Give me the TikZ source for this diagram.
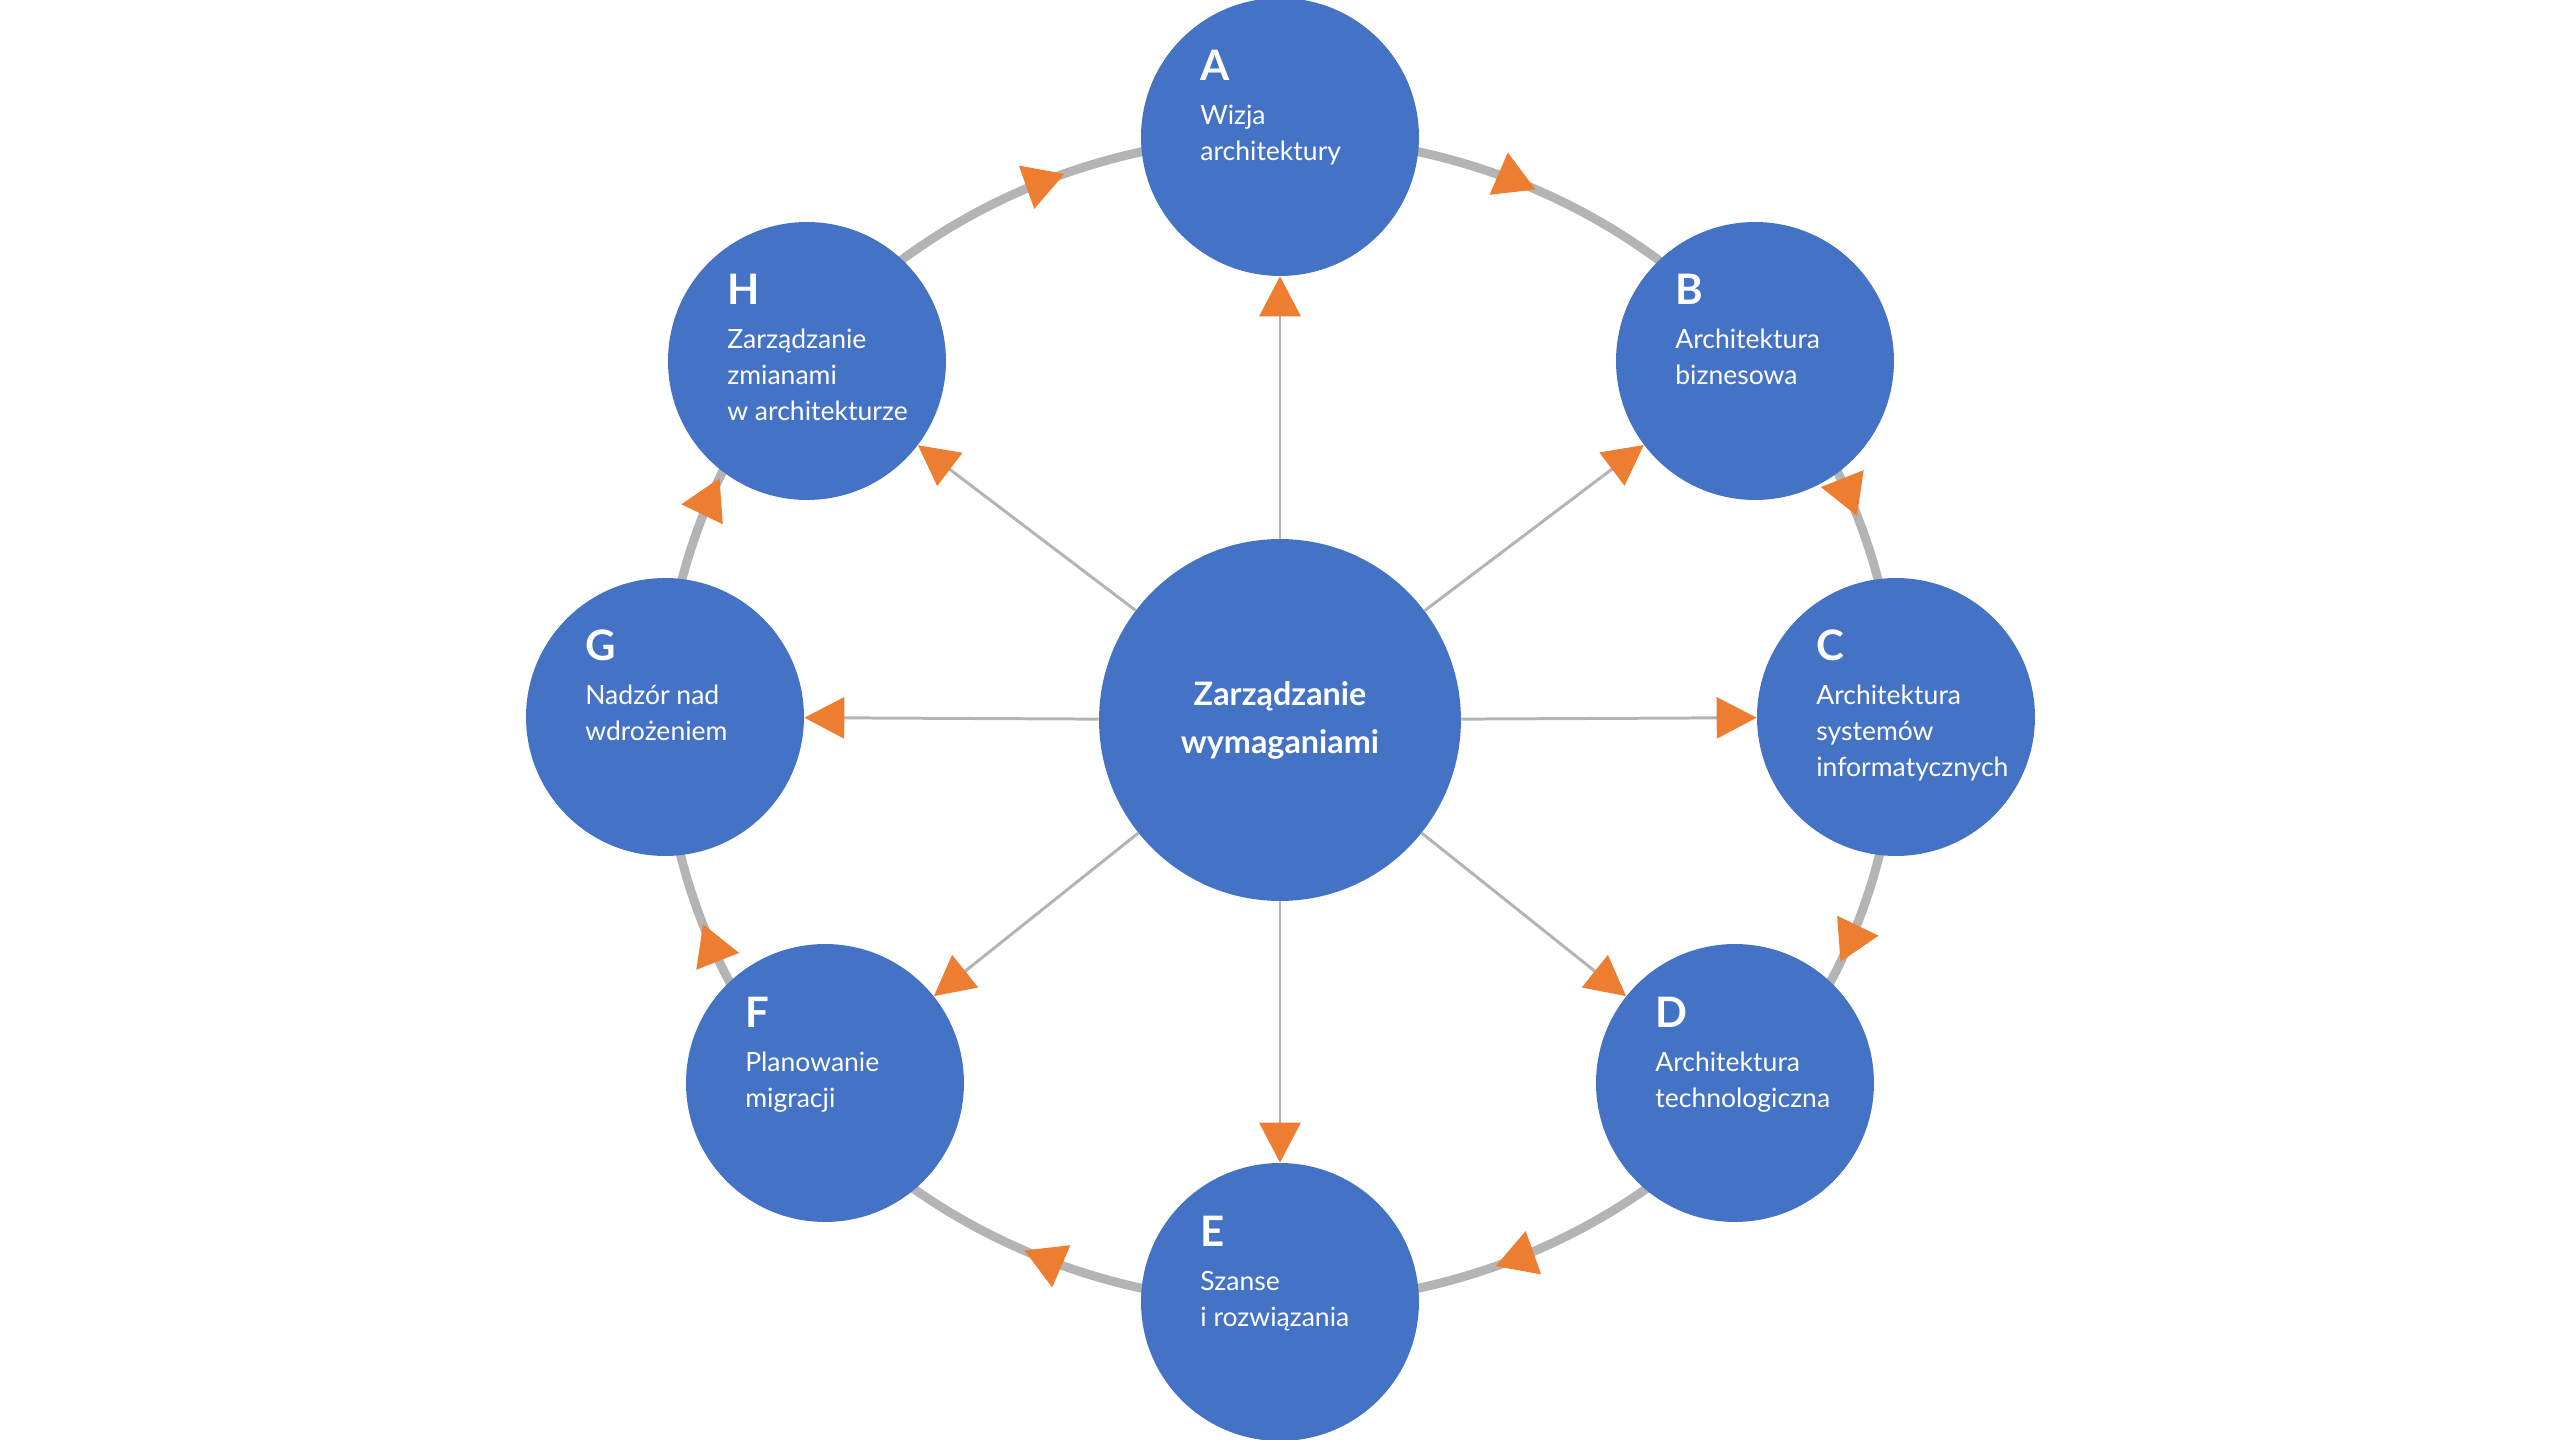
\documentclass[tikz,border=0pt]{standalone}
\usepackage{fontspec}
\setmainfont{Lato}
\usepackage{tikz}
\usetikzlibrary{arrows.meta}
\usetikzlibrary{calc}
\definecolor{phaseblue}{HTML}{4472C4}
\definecolor{tiporange}{HTML}{ED7D31}
\definecolor{ringgray}{HTML}{B4B4B4}

\begin{document}
\begin{tikzpicture}[x=0.02cm,y=0.02cm,
  phase/.style={circle,fill=phaseblue,minimum size=5.56cm,inner sep=0pt},
  hub/.style={circle,fill=phaseblue,minimum size=7.24cm,inner sep=0pt,text=white,align=center,font=\bfseries\fontsize{18.4}{27.3}\selectfont},
  head/.style={anchor=base west,inner sep=0pt,text=white,font=\bfseries\fontsize{23.9}{28}\selectfont},
  body/.style={anchor=base west,inner sep=0pt,text=white,font=\fontsize{15.1}{20.5}\selectfont},
  spoke/.style={draw=ringgray,line width=1.7pt,-{Triangle[length=0.8cm,width=0.82cm,color=tiporange]}},
  ring/.style={draw=ringgray,line width=5.1pt},
  cyclehead/.style={fill=tiporange}]
\useasboundingbox (-1280,-720) rectangle (1280,720);
\draw[ring] (0,0) ellipse (616 and 583);
\node[hub] (Z) at (0,0) {Zarządzanie\\wymaganiami};
\foreach \n/\px/\py/\txt in {A/0/583/{Wizja,architektury},
  B/475/359/{Architektura,biznesowa},
  C/616/3/{Architektura,systemów,informatycznych},
  D/455/-363/{Architektura,technologiczna},
  E/0/-582/{Szanse,i rozwiązania},
  F/-455/-363/{Planowanie,migracji},
  G/-615/3/{Nadzór nad,wdrożeniem},
  H/-473/359/{Zarządzanie,zmianami,w architekturze}}
{
  \node[phase] (\n) at (\px,\py) {};
  \node[head] (\n-h) at ($(\n)+(-80,56)$) {\n};
  \foreach \ln [count=\i] in \txt
    \node[body] (\n-\i) at ($(\n)+(-80,48-36*\i)$) {\ln};
}
\foreach \n in {A,B,C,D,E,F,G,H}
  \draw[spoke] (Z) -- (\n);
\foreach \k in {0,...,7}
{
  \pgfmathsetmacro\t{110.5-45*\k}
  \pgfmathsetmacro\a{atan2(-583*cos(\t),616*sin(\t))}
  \fill[cyclehead,shift={({616*cos(\t)},{583*sin(\t)})},rotate=\a] (0,0) -- (-40,23) -- (-40,-23) -- cycle;
}
\end{tikzpicture}
\end{document}
